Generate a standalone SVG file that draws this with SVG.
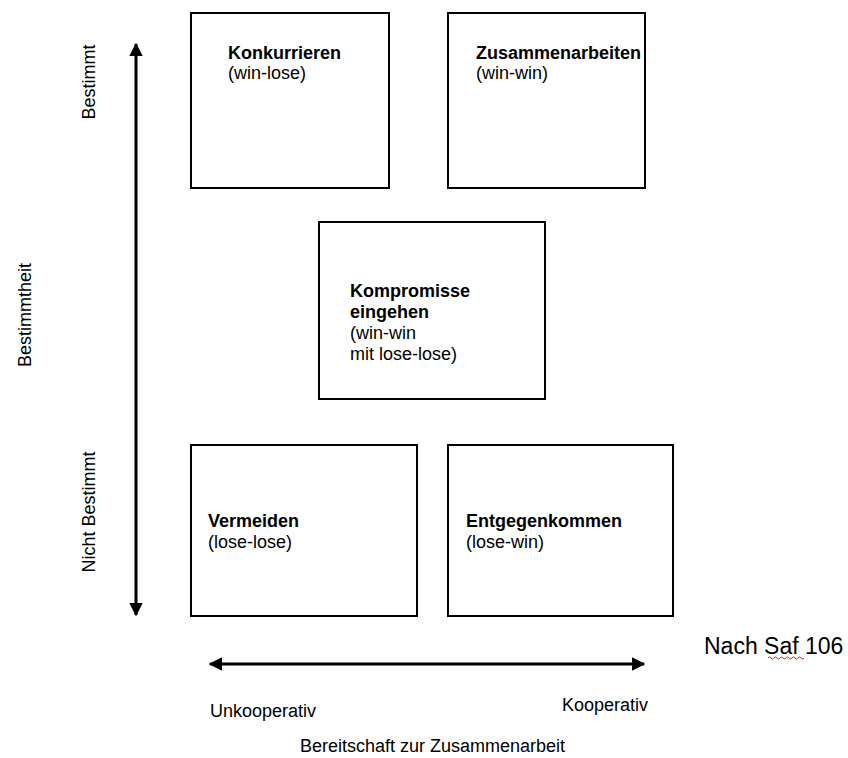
<svg xmlns="http://www.w3.org/2000/svg" width="848" height="758" viewBox="0 0 848 758">
<style>
text{font-family:"Liberation Sans",Arial,Helvetica,sans-serif;font-size:18px;fill:#000}
.b{font-weight:bold}
.box{fill:#fff;stroke:#000;stroke-width:2}
.ax{stroke:#000;stroke-width:3;fill:none}
.big{font-size:23px}
</style>
<defs>
<marker id="ah" viewBox="0 0 10 10" refX="9" refY="5" markerWidth="4.5" markerHeight="4.5" orient="auto-start-reverse" markerUnits="strokeWidth">
<path d="M0,0 L10,5 L0,10 z" fill="#000"/>
</marker>
</defs>
<rect width="848" height="758" fill="#fff"/>
<g id="connectors">
<line class="ax" x1="136" y1="44" x2="136" y2="615" marker-start="url(#ah)" marker-end="url(#ah)"/>
<line class="ax" x1="210" y1="664" x2="644" y2="664" marker-start="url(#ah)" marker-end="url(#ah)"/>
</g>
<g id="konkurrieren">
<rect class="box" x="191" y="13" width="198" height="175"/>
<text class="b" x="228" y="59">Konkurrieren</text>
<text x="228" y="79">(win-lose)</text>
</g>
<g id="zusammenarbeiten">
<rect class="box" x="448" y="13" width="197" height="175"/>
<text class="b" x="476" y="59">Zusammenarbeiten</text>
<text x="476" y="79">(win-win)</text>
</g>
<g id="kompromisse">
<rect class="box" x="319" y="222" width="226" height="177"/>
<text class="b" x="350" y="297">Kompromisse</text>
<text class="b" x="350" y="318">eingehen</text>
<text x="350" y="339">(win-win</text>
<text x="350" y="360">mit lose-lose)</text>
</g>
<g id="vermeiden">
<rect class="box" x="191" y="445" width="226" height="171"/>
<text class="b" x="208" y="527">Vermeiden</text>
<text x="208" y="548">(lose-lose)</text>
</g>
<g id="entgegenkommen">
<rect class="box" x="448" y="445" width="225" height="171"/>
<text class="b" x="466" y="527">Entgegenkommen</text>
<text x="466" y="548">(lose-win)</text>
</g>
<g id="labels">
<text transform="translate(95,82) rotate(-90)" text-anchor="middle">Bestimmt</text>
<text transform="translate(31,315) rotate(-90)" text-anchor="middle">Bestimmtheit</text>
<text transform="translate(95,512) rotate(-90)" text-anchor="middle">Nicht Bestimmt</text>
<text x="210" y="717">Unkooperativ</text>
<text x="562" y="711">Kooperativ</text>
<text x="300" y="752">Bereitschaft zur Zusammenarbeit</text>
<text class="big" x="704" y="654">Nach Saf 106</text>
<path d="M768,658 q1.5,-2 3,0 t3,0 t3,0 t3,0 t3,0 t3,0 t3,0 t3,0 t3,0 t3,0 t3,0 t3,0" fill="none" stroke="#e02020" stroke-width="1"/>
</g>
</svg>
